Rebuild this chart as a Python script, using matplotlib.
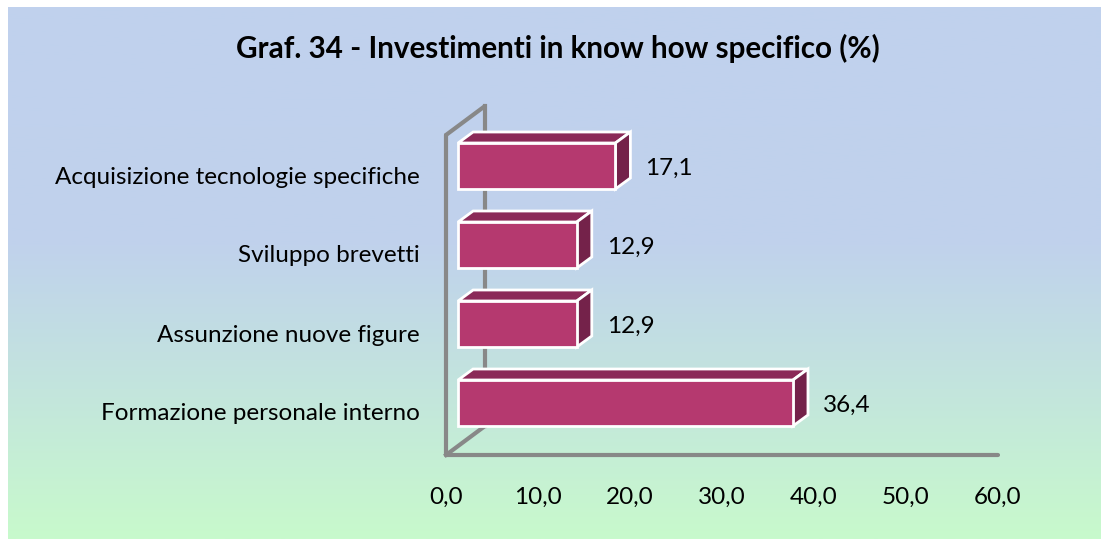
import numpy as np
import matplotlib.pyplot as plt
from matplotlib.patches import Polygon
from matplotlib.colors import LinearSegmentedColormap

# === Dati ===
categories = [
    "Formazione personale interno",
    "Assunzione nuove figure",
    "Sviluppo brevetti",
    "Acquisizione tecnologie specifiche",
]
values = [36.4, 12.9, 12.9, 17.1]
ticks = [0, 10, 20, 30, 40, 50, 60]
tick_labels = ["0,0", "10,0", "20,0", "30,0", "40,0", "50,0", "60,0"]
title = "Graf. 34 - Investimenti in know how specifico (%)"

FONT = "Lato"
FS = 17.5
W, H = 1101, 539
fig = plt.figure(figsize=(W / 100, H / 100), dpi=100)

# === Sfondo sfumato (azzurro in alto, verde in basso) ===
bg = fig.add_axes([8 / W, 0, 1 - 8 / W, 1 - 7 / H])
grad = LinearSegmentedColormap.from_list(
    "bg", [(0.0, "#c0d1ee"), (0.45, "#c0d2ec"), (0.72, "#c3e5dd"), (1.0, "#c8facc")])
bg.imshow(np.linspace(0, 1, 256).reshape(-1, 1), cmap=grad, aspect="auto",
          extent=(0, 1, 0, 1))
bg.axis("off")

# === Assi del grafico (scala: pixel -> unità dei dati) ===
ax = fig.add_axes([0, 0, 1, 1])
ax.patch.set_alpha(0)
ax.axis("off")
PX = 9.2      # pixel per unità di percentuale
ROW = 79      # pixel tra una categoria e l'altra
X0 = 446      # posizione dello zero sul bordo frontale
Y0 = 403      # centro della prima barra (dall'alto)
ax.set_xlim(-X0 / PX, (W - X0) / PX)
ax.set_ylim(-(H - Y0) / ROW, Y0 / ROW)

def px(dx=0, dy=0):
    return dx / PX, dy / ROW

# profondità della scatola 3D e delle barre
wdx, wdy = px(39, 29)
f0 = 0.31
bdx, bdy = px(15, 11)
floor_y = (Y0 - 455) / ROW
top_y = (Y0 - 135) / ROW

grey = "#888888"
# pareti
ax.plot([0, 0], [floor_y, top_y], color=grey, lw=3, zorder=1, solid_capstyle="round")
ax.plot([0, wdx], [top_y, top_y + wdy], color=grey, lw=3, zorder=1, solid_capstyle="round")
ax.plot([wdx, wdx], [floor_y + wdy, top_y + wdy], color=grey, lw=3, zorder=1)
ax.plot([0, wdx], [floor_y, floor_y + wdy], color=grey, lw=3, zorder=1)
ax.plot([0, ticks[-1]], [floor_y, floor_y], color=grey, lw=3, zorder=1, solid_capstyle="round")

# === Barre 3D ===
half = 23 / ROW
xs = f0 * wdx
for i, v in enumerate(values):
    yb, yt = i - half, i + half
    xe = xs + v
    front = [(xs, yb), (xe, yb), (xe, yt), (xs, yt)]
    top = [(xs, yt), (xe, yt), (xe + bdx, yt + bdy), (xs + bdx, yt + bdy)]
    side = [(xe, yb), (xe + bdx, yb + bdy), (xe + bdx, yt + bdy), (xe, yt)]
    for pts, col in [(top, "#8b2a58"), (side, "#74224a"), (front, "#b5396f")]:
        ax.add_patch(Polygon(pts, closed=True, facecolor=col, edgecolor="white",
                             lw=2, joinstyle="miter", zorder=3))
    ax.text(xe + bdx + 15 / PX, i - 2 / ROW, f"{v:.1f}".replace(".", ","),
            fontsize=FS, family=FONT, va="center", ha="left", zorder=4)
    ax.text((420 - X0) / PX, i - 11 / ROW, categories[i],
            fontsize=FS, family=FONT, va="center", ha="right", zorder=4)

for t, lab in zip(ticks, tick_labels):
    ax.text(t, (Y0 - 497) / ROW, lab, fontsize=FS, family=FONT,
            ha="center", va="center")

fig.text(558 / W, 1 - 48 / H, title, fontsize=21.3, family=FONT,
         fontweight="bold", ha="center", va="center")

fig.savefig("out.png", dpi=100)
